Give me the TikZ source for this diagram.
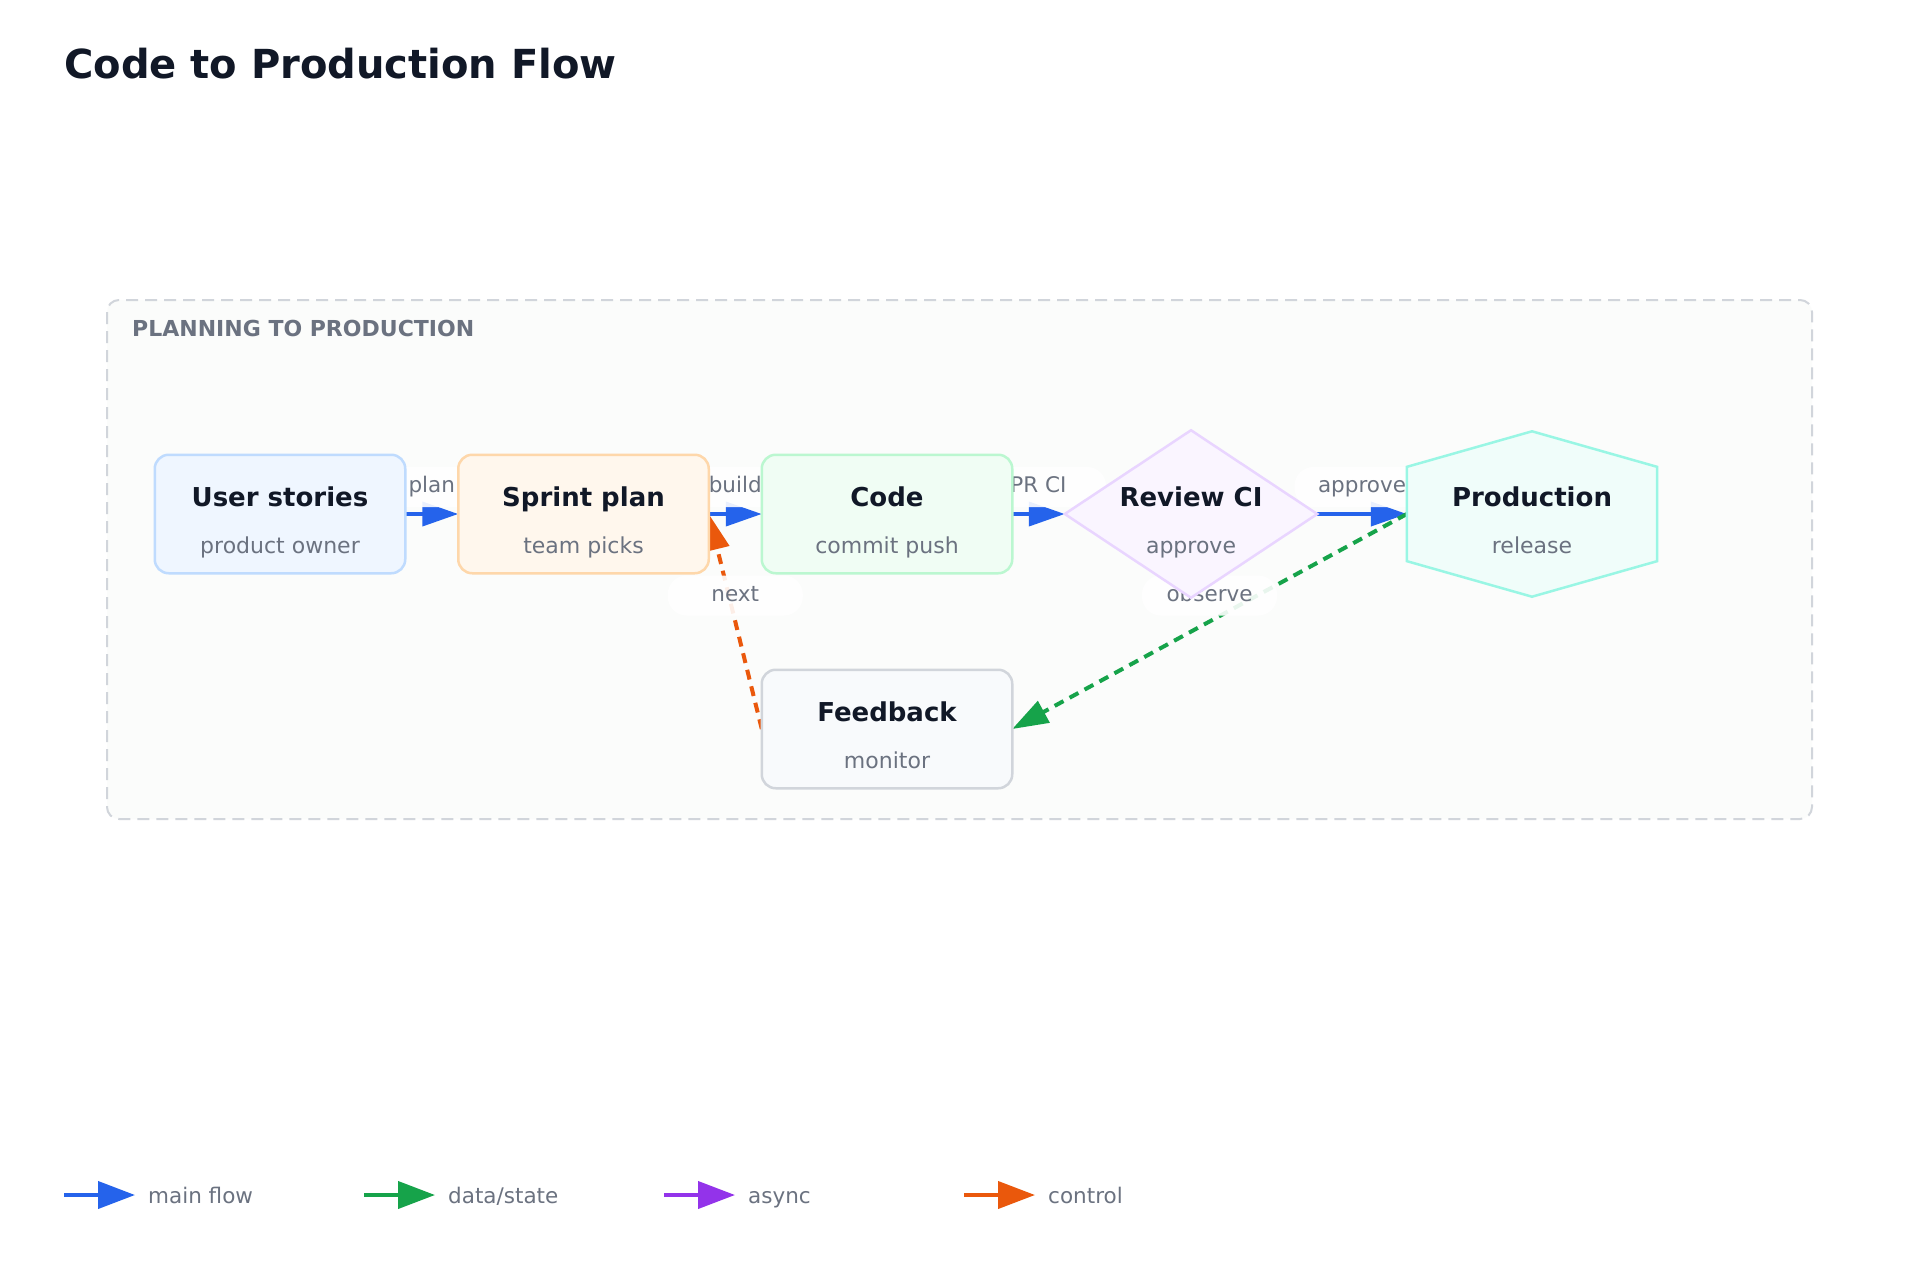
\documentclass[tikz,border=0pt]{standalone}
\usepackage{fontspec}
\setmainfont{DejaVu Sans}
\usetikzlibrary{arrows.meta,shapes.geometric,calc}
\definecolor{ink}{HTML}{111827}
\definecolor{muted}{HTML}{6B7280}
\definecolor{cblue}{HTML}{2563EB}
\definecolor{cgreen}{HTML}{16A34A}
\definecolor{cpurple}{HTML}{9333EA}
\definecolor{corange}{HTML}{EA580C}
\definecolor{blueF}{HTML}{EFF6FF}\definecolor{blueS}{HTML}{BFDBFE}
\definecolor{orF}{HTML}{FFF7ED}\definecolor{orS}{HTML}{FED7AA}
\definecolor{grF}{HTML}{F0FDF4}\definecolor{grS}{HTML}{BBF7D0}
\definecolor{puF}{HTML}{FAF5FF}\definecolor{puS}{HTML}{E9D5FF}
\definecolor{teF}{HTML}{F0FDFA}\definecolor{teS}{HTML}{99F6E4}
\definecolor{gyF}{HTML}{F8FAFC}\definecolor{gyS}{HTML}{D1D5DB}
\definecolor{contF}{HTML}{FBFCFB}
\tikzset{
  box/.style={rectangle, rounded corners=14pt, minimum width=248pt, minimum height=116pt, line width=2.5pt, inner sep=0pt},
  ttl/.style={font=\fontsize{26}{30}\selectfont\bfseries, text=ink, anchor=base, inner sep=0pt},
  sub/.style={font=\fontsize{22}{26}\selectfont, text=muted, anchor=base, inner sep=0pt},
  elabel/.style={font=\fontsize{21.5}{26}\selectfont, text=muted, fill=white, fill opacity=0.9, text opacity=1, rounded corners=19pt, minimum width=135pt, minimum height=40pt, inner sep=0pt, text height=16pt, text depth=5pt},
  tipA/.style={-{Triangle[length=36pt,width=24pt]}},
  flow/.style={line width=4pt, draw=cblue, tipA},
  dataflow/.style={line width=4pt, draw=cgreen, tipA, dash pattern=on 10pt off 7pt},
  ctrlflow/.style={line width=4pt, draw=corange, tipA, dash pattern=on 10pt off 7pt},
  legtext/.style={font=\fontsize{21.5}{26}\selectfont, text=muted, anchor=base west, inner sep=0pt},
  legarrow/.style={line width=4pt, -{Triangle[length=37pt,width=27pt]}},
}
\begin{document}
\begin{tikzpicture}[x=1pt,y=-1pt]
\fill[white] (0,0) rectangle (1920,1280);
\useasboundingbox (0,0) rectangle (1920,1280);
% title
\node[font=\fontsize{40}{46}\selectfont\bfseries, text=ink, anchor=base west, inner sep=0pt] (title) at (64,78) {Code to Production Flow};
% container
\draw[draw=gyS, fill=contF, line width=2pt, dash pattern=on 12pt off 7pt, rounded corners=12pt] (107,300) rectangle (1812,819);
\node[font=\fontsize{22}{26}\selectfont\bfseries, text=muted, anchor=base west, inner sep=0pt] (clabel) at (132,336) {PLANNING TO PRODUCTION};
% node shapes (placement only)
\node[box] (us) at (280,514) {};
\node[box] (sp) at (583.5,514) {};
\node[box] (cd) at (887,514) {};
\node[diamond, line width=2.5pt, minimum width=250pt, minimum height=165pt, inner sep=0pt, aspect=1.515] (rv) at (1191,514) {};
\node[minimum width=250pt, minimum height=165pt, inner sep=0pt] (pr) at (1532,514) {};
\node[box] (fb) at (887,729) {};
% edges
\draw[flow] (us.east) -- (sp.west);
\draw[flow] (sp.east) -- (cd.west);
\draw[flow] (cd.east) -- (rv.west);
\draw[flow] (rv.east) -- (pr.west);
\draw[dataflow] (pr.west) -- (fb.east);
\draw[ctrlflow] (fb.west) -- (sp.east);
% edge labels
\node[elabel] (lplan) at ($(us.east)!0.5!(sp.west)+(0,-27)$) {plan};
\node[elabel] (lbuild) at ($(sp.east)!0.5!(cd.west)+(0,-27)$) {build};
\node[elabel] (lpr) at ($(cd.east)!0.5!(rv.west)+(0,-27)$) {PR CI};
\node[elabel] (lapp) at ($(rv.east)!0.5!(pr.west)+(0,-27)$) {approve};
\node[elabel] (lobs) at ($(pr.west)!0.5!(fb.east)+(0,-26)$) {observe};
\node[elabel] (lnext) at ($(fb.west)!0.5!(sp.east)+(0,-26)$) {next};
% node bodies drawn over the label pills
\draw[draw=blueS, fill=blueF, line width=2.5pt, rounded corners=14pt] (us.north west) rectangle (us.south east);
\draw[draw=orS, fill=orF, line width=2.5pt, rounded corners=14pt] (sp.north west) rectangle (sp.south east);
\draw[draw=grS, fill=grF, line width=2.5pt, rounded corners=14pt] (cd.north west) rectangle (cd.south east);
\draw[draw=puS, fill=puF, line width=2.5pt] (rv.north) -- (rv.east) -- (rv.south) -- (rv.west) -- cycle;
\draw[draw=teS, fill=teF, line width=2.5pt, line join=miter] (pr.north) -- ($(pr.north east)!0.215!(pr.south east)$) -- ($(pr.north east)!0.785!(pr.south east)$) -- (pr.south) -- ($(pr.north west)!0.785!(pr.south west)$) -- ($(pr.north west)!0.215!(pr.south west)$) -- cycle;
\draw[draw=gyS, fill=gyF, line width=2.5pt, rounded corners=14pt] (fb.north west) rectangle (fb.south east);
% arrowheads touching nodes are redrawn on top of pills via edges above; node texts
\node[ttl] at ($(us.center)+(0,-8)$) {User stories};
\node[sub] at ($(us.center)+(0,39)$) {product owner};
\node[ttl] at ($(sp.center)+(0,-8)$) {Sprint plan};
\node[sub] at ($(sp.center)+(0,39)$) {team picks};
\node[ttl] at ($(cd.center)+(0,-8)$) {Code};
\node[sub] at ($(cd.center)+(0,39)$) {commit push};
\node[ttl] at ($(rv.center)+(0,-8)$) {Review CI};
\node[sub] at ($(rv.center)+(0,39)$) {approve};
\node[ttl] at ($(pr.center)+(0,-8)$) {Production};
\node[sub] at ($(pr.center)+(0,39)$) {release};
\node[ttl] at ($(fb.center)+(0,-8)$) {Feedback};
\node[sub] at ($(fb.center)+(0,39)$) {monitor};
% legend
\coordinate (l1a) at (64,1195); \coordinate (l1b) at (135,1195);
\coordinate (l2a) at (364,1195); \coordinate (l2b) at (435,1195);
\coordinate (l3a) at (664,1195); \coordinate (l3b) at (735,1195);
\coordinate (l4a) at (964,1195); \coordinate (l4b) at (1035,1195);
\draw[legarrow, draw=cblue] (l1a) -- (l1b);
\draw[legarrow, draw=cgreen] (l2a) -- (l2b);
\draw[legarrow, draw=cpurple] (l3a) -- (l3b);
\draw[legarrow, draw=corange] (l4a) -- (l4b);
\node[legtext] (t1) at (148,1203) {main flow};
\node[legtext] (t2) at (448,1203) {data/state};
\node[legtext] (t3) at (748,1203) {async};
\node[legtext] (t4) at (1048,1203) {control};
\end{tikzpicture}
\end{document}
